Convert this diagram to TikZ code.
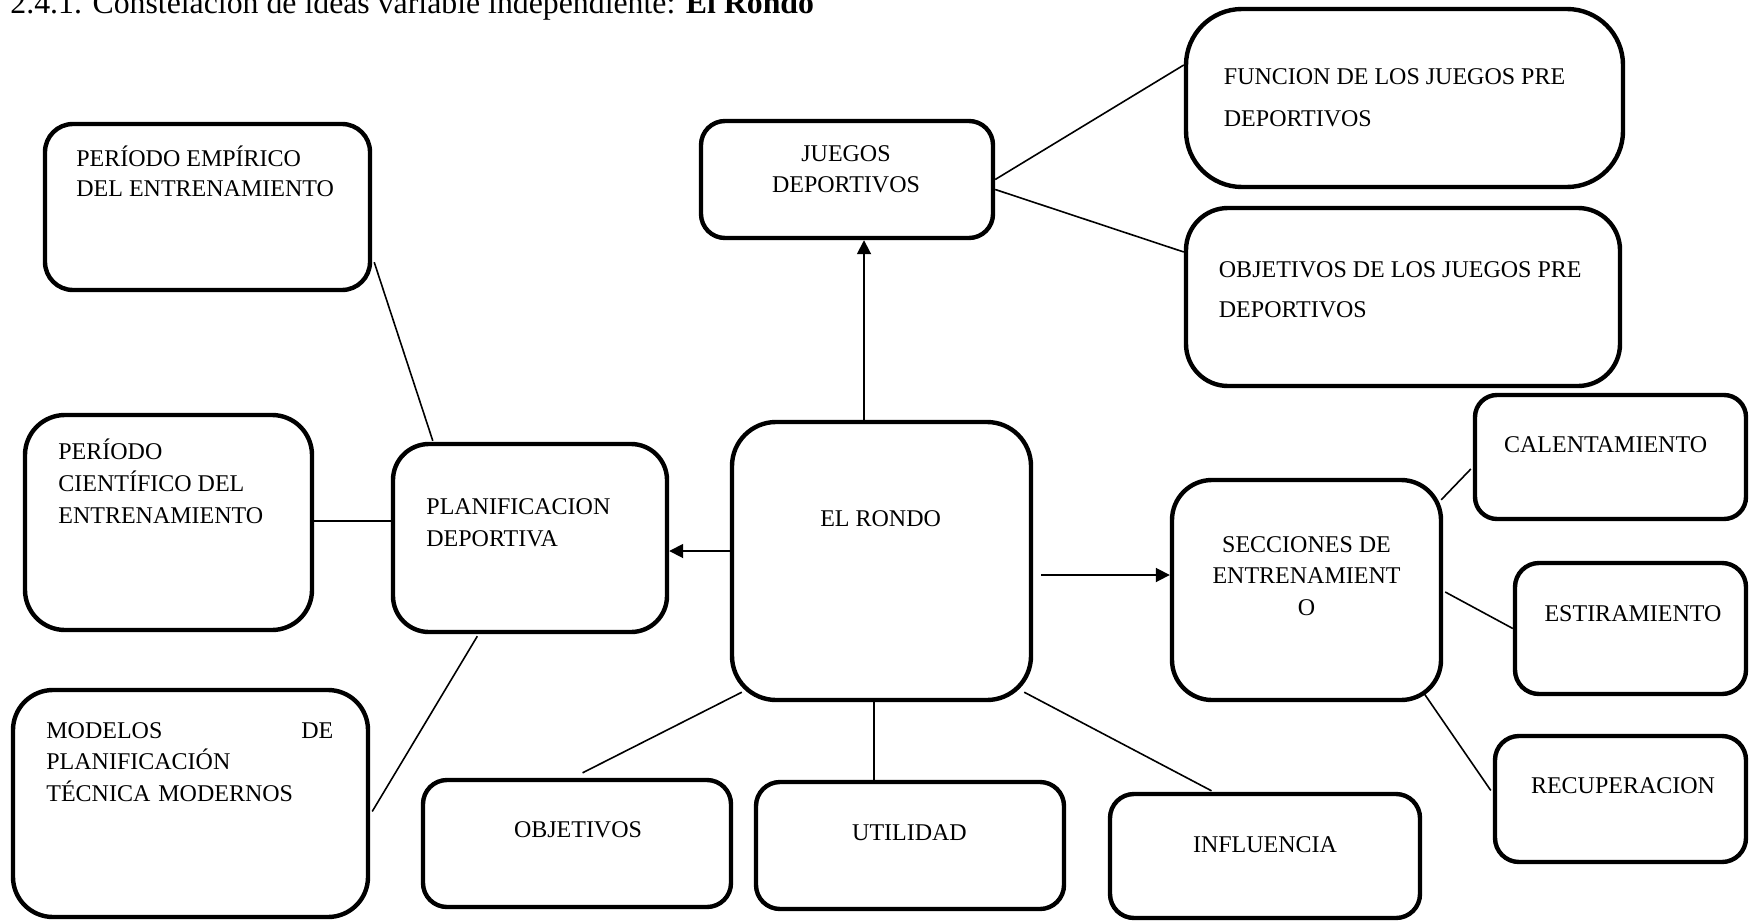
\documentclass[tikz,border=0pt]{standalone}
\usepackage{fontspec}
\setmainfont{Liberation Serif}
\usetikzlibrary{fit,calc,arrows.meta}

\begin{document}
\begin{tikzpicture}[x=0.5pt,y=-0.5pt,
  box/.style={draw=black, line width=2.2pt, inner sep=0pt, rounded corners=#1},
  box/.default=12pt,
  lbl/.style={inner sep=0pt, font=\fontsize{12}{15}\selectfont},
  link/.style={line width=0.8pt},
  arr/.style={line width=0.9pt, -{Triangle[length=7pt,width=7pt]}}]
\useasboundingbox (0,0) rectangle (1749,920);
\clip (0,0) rectangle (1749,920);

% heading
\node[anchor=base west, inner sep=0pt, font=\fontsize{15.9}{18}\selectfont] (title) at (10,14)
  {2.4.1. Constelación de ideas variable independiente: \textbf{El Rondo}};

% boxes
\node[box=14pt, fit={(45,124) (370,290)}]   (emp)  {};
\node[box=20pt, fit={(25,415) (312,630)}]   (cie)  {};
\node[box=20pt, fit={(13,690) (368,917)}]   (mod)  {};
\node[box=18pt, fit={(393,444) (667,632)}]  (pla)  {};
\node[box=12pt, fit={(701,121) (993,238)}]  (jue)  {};
\node[box=28pt, fit={(1186,9) (1623,187)}]  (fun)  {};
\node[box=21pt, fit={(1186,208) (1620,386)}] (objj) {};
\node[box=22pt, fit={(732,422) (1031,700)}] (ron)  {};
\node[box=20pt, fit={(1172,480) (1441,700)}] (sec) {};
\node[box=11pt, fit={(1475,395) (1746,519)}] (cal) {};
\node[box=12pt, fit={(1515,563) (1746,694)}] (est) {};
\node[box=12pt, fit={(1495,736) (1746,862)}] (rec) {};
\node[box=12pt, fit={(423,780) (731,907)}]  (obj)  {};
\node[box=12pt, fit={(756,782) (1064,909)}] (uti)  {};
\node[box=12pt, fit={(1110,794) (1420,918)}] (inf) {};

% labels
\node[lbl, anchor=west, align=left] (empT) at (76,171.5) {PERÍODO EMPÍRICO\\DEL ENTRENAMIENTO};
\node[lbl, anchor=west, align=left, font=\fontsize{12}{16}\selectfont] (cieT) at (58,481.5)
  {PERÍODO\\CIENTÍFICO DEL\\ENTRENAMIENTO};
\node[lbl, anchor=west, align=left, text width=143.5pt, font=\fontsize{12}{15.8}\selectfont] (modT) at (46,762)
  {MODELOS\hfill DE\\PLANIFICACIÓN\\TÉCNICA MODERNOS};
\node[lbl, anchor=west, align=left, font=\fontsize{12}{16}\selectfont] (plaT) at (426,523)
  {PLANIFICACION\\DEPORTIVA};
\node[lbl, align=center, font=\fontsize{12}{15.5}\selectfont] (jueT) at (846,169.5) {JUEGOS\\DEPORTIVOS};
\node[lbl, anchor=west, align=left, font=\fontsize{12}{20.8}\selectfont] (funT) at (1223.5,97.5)
  {FUNCION DE LOS JUEGOS PRE\\DEPORTIVOS};
\node[lbl, anchor=west, align=left, font=\fontsize{12}{20}\selectfont] (objjT) at (1218.5,290)
  {OBJETIVOS DE LOS JUEGOS PRE\\DEPORTIVOS};
\node[lbl] (ronT) at (880.6,518.7) {EL RONDO};
\node[lbl, align=center, font=\fontsize{12}{15.8}\selectfont] (secT) at (1306.5,576)
  {SECCIONES DE\\ENTRENAMIENT\\O};
\node[lbl] (calT) at (1605.6,444.7) {CALENTAMIENTO};
\node[lbl] (estT) at (1633,614) {ESTIRAMIENTO};
\node[lbl] (recT) at (1623,785.6) {RECUPERACION};
\node[lbl] (objT) at (578,830) {OBJETIVOS};
\node[lbl] (utiT) at (909.5,832.3) {UTILIDAD};
\node[lbl] (infT) at (1265,844.5) {INFLUENCIA};

% connectors around PLANIFICACION DEPORTIVA
\draw[link] ($(emp.south east)+(2,-30)$) -- ($(pla.north west)+(42,-1)$);
\draw[link] ($(cie.east)+(0,-1.5)$) coordinate (c1) -- (c1 -| pla.west);
\draw[link] ($(mod.east)+(2,8)$) -- ($(pla.south west)+(86.5,2)$);

% arrows leaving EL RONDO
\draw[arr] ($(ron.west)+(0,-10)$) coordinate (a1) -- (a1 -| pla.east);
\draw[arr] ($(ron.north)+(-17.5,0)$) coordinate (a2) -- (a2 |- jue.south);
\draw[arr] ($(ron.east)+(8,14)$) coordinate (a3) -- (a3 -| sec.west);

% JUEGOS DEPORTIVOS branches
\draw[link] (jue.east) -- ($(fun.west)+(0,-33)$);
\draw[link] ($(jue.east)+(0,10)$) -- ($(objj.west)+(0,-45)$);

% SECCIONES DE ENTRENAMIENTO branches
\draw[link] ($(sec.north east)+(-2,22)$) -- ($(cal.west)+(-2,12)$);
\draw[link] ($(sec.east)+(2,2)$) -- (est.west);
\draw[link] ($(sec.south east)+(-20,-10)$) -- ($(rec.west)+(-2,-8.5)$);

% lower branches of EL RONDO
\coordinate (objEnd) at ($(obj.north)+(5.6,-5)$);
\draw[link] ($(ron.south west)+(12,-10)$) -- (objEnd);
\draw[link] ($(ron.south)+(-7.5,0)$) coordinate (u1) -- (u1 |- uti.north);
\draw[link] ($(ron.south east)+(-9,-10)$) -- ($(inf.north)+(-53.5,-1)$);
\end{tikzpicture}
\end{document}
